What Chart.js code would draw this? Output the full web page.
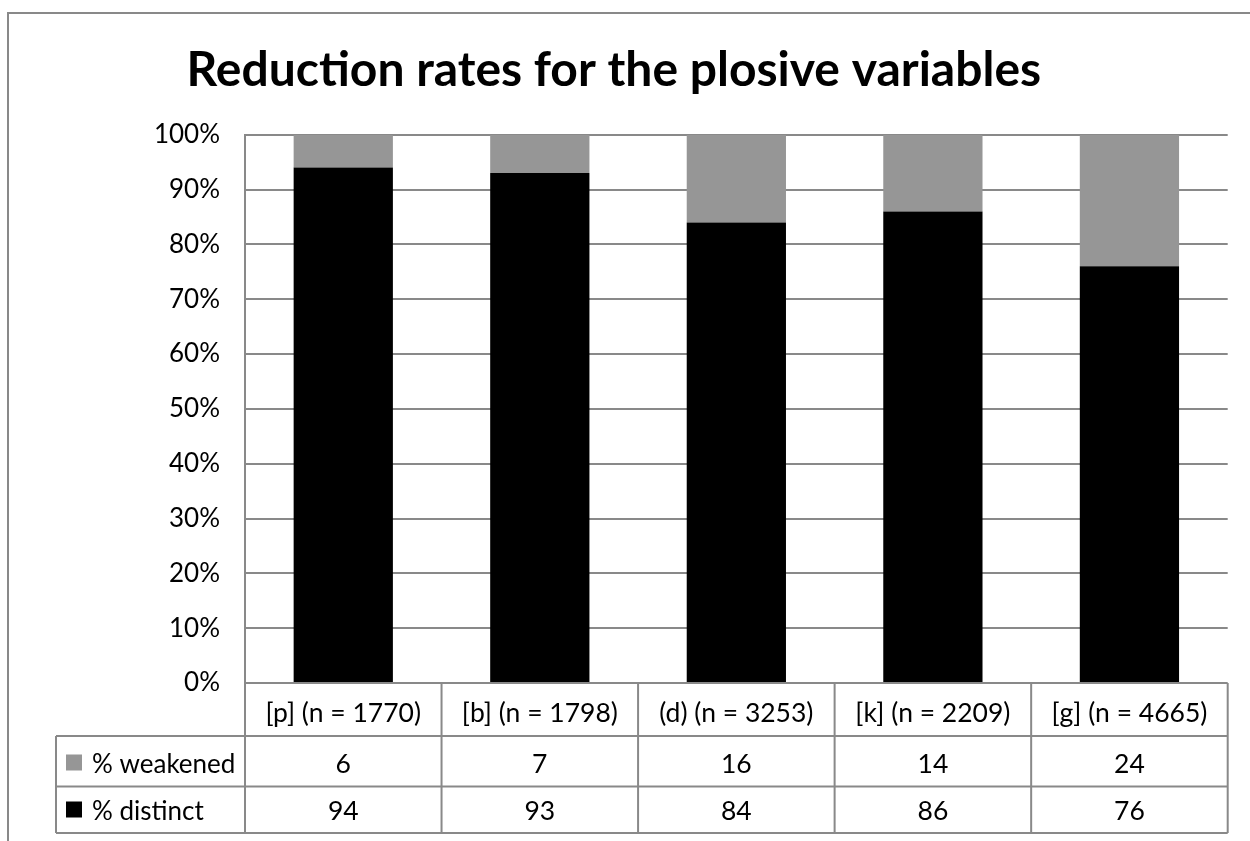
<!DOCTYPE html>
<html>
<head>
<meta charset="utf-8">
<script src="https://cdn.jsdelivr.net/npm/chart.js@4.4.1/dist/chart.umd.min.js"></script>
<style>
  html, body { margin: 0; padding: 0; background: #ffffff; }
  #wrap { width: 1250px; height: 841px; position: relative; }
</style>
</head>
<body>
<div id="wrap"><canvas id="chart"></canvas></div>
<script>
// Plosive variables and their sample sizes
const categories = ['[p] (n = 1770)', '[b] (n = 1798)', '(d) (n = 3253)', '[k] (n = 2209)', '[g] (n = 4665)'];
// Percentages per variable
const distinctPct = [94, 93, 84, 86, 76];
const weakenedPct = [6, 7, 16, 14, 24];
const seriesNames = ['% distinct', '% weakened'];
const seriesColors = ['#000000', '#969696'];
// Value-axis ticks
const yTicks = [0, 10, 20, 30, 40, 50, 60, 70, 80, 90, 100];

const FONT = 'Lato, "Open Sans", sans-serif';
const LINE = '#898989';

// White background and the grey frame round the whole chart
const frame = {
  id: 'frame',
  beforeDraw(chart) {
    const ctx = chart.ctx;
    ctx.save();
    ctx.fillStyle = '#ffffff';
    ctx.fillRect(0, 0, chart.width, chart.height);
    ctx.strokeStyle = LINE;
    ctx.lineWidth = 2;
    ctx.strokeRect(8, 13, chart.width + 40, chart.height + 40);
    ctx.restore();
  }
};

// Data table under the plot: category header row, then one row per series
const dataTable = {
  id: 'dataTable',
  afterDraw(chart) {
    const { ctx, chartArea: a, scales: { x } } = chart;
    const rowH = [53, 50.5, 46.5];
    const keyLeft = 56;
    const y0 = a.bottom, y1 = y0 + rowH[0], y2 = y1 + rowH[1], y3 = y2 + rowH[2];
    const half = (x.getPixelForValue(1) - x.getPixelForValue(0)) / 2;

    ctx.save();
    ctx.strokeStyle = LINE;
    ctx.lineWidth = 2;
    ctx.beginPath();
    ctx.moveTo(keyLeft, y1); ctx.lineTo(a.right, y1);
    ctx.moveTo(keyLeft, y2); ctx.lineTo(a.right, y2);
    ctx.moveTo(keyLeft, y3); ctx.lineTo(a.right, y3);
    ctx.moveTo(keyLeft, y1); ctx.lineTo(keyLeft, y3);
    ctx.moveTo(a.left, y0); ctx.lineTo(a.left, y3);
    categories.forEach((c, i) => {
      const xr = x.getPixelForValue(i) + half;
      ctx.moveTo(xr, y0); ctx.lineTo(xr, y3);
    });
    ctx.stroke();

    ctx.fillStyle = '#000000';
    ctx.font = '26.5px ' + FONT;
    ctx.textBaseline = 'alphabetic';
    ctx.textAlign = 'center';

    // rows run top series first
    const rows = chart.data.datasets.slice().reverse();
    const headBase = y0 + 39;
    const rowBase = [y1 + 36.5, y2 + 33];

    categories.forEach((c, i) => {
      const cx = x.getPixelForValue(i);
      ctx.fillText(c, cx, headBase);
      rows.forEach((ds, r) => ctx.fillText(String(ds.data[i]), cx, rowBase[r]));
    });

    ctx.textAlign = 'left';
    ctx.font = '26px ' + FONT;
    rows.forEach((ds, r) => {
      const mid = rowBase[r] - 10;
      ctx.fillStyle = ds.backgroundColor;
      ctx.fillRect(66, mid - 8, 16, 16);
      ctx.fillStyle = '#000000';
      ctx.fillText(ds.label, 92, rowBase[r]);
    });
    ctx.restore();
  }
};

new Chart(document.getElementById('chart'), {
  type: 'bar',
  data: {
    labels: categories,
    datasets: [
      { label: seriesNames[0], data: distinctPct, backgroundColor: seriesColors[0] },
      { label: seriesNames[1], data: weakenedPct, backgroundColor: seriesColors[1] }
    ]
  },
  options: {
    responsive: true,
    maintainAspectRatio: false,
    animation: false,
    layout: { padding: { left: 0, right: 22.3, top: 0, bottom: 158 } },
    datasets: { bar: { categoryPercentage: 1, barPercentage: 0.505, borderWidth: 0 } },
    plugins: {
      legend: { display: false },
      tooltip: { enabled: false },
      title: {
        display: true,
        text: 'Reduction rates for the plosive variables',
        color: '#000000',
        font: { family: FONT, size: 48, weight: 'bold', lineHeight: 1.2 },
        padding: { top: 42, bottom: 35.1 }
      }
    },
    scales: {
      x: {
        stacked: true,
        display: false
      },
      y: {
        stacked: true,
        min: 0,
        max: 100,
        afterFit(scale) { scale.width = 245; },
        afterBuildTicks(scale) { scale.ticks = yTicks.map(v => ({ value: v })); },
        grid: { color: LINE, lineWidth: 2, drawTicks: false },
        border: { display: true, color: LINE, width: 2 },
        ticks: {
          padding: 25,
          color: '#000000',
          font: { family: FONT, size: 26 },
          callback: v => v + '%'
        }
      }
    }
  },
  plugins: [frame, dataTable]
});
</script>
</body>
</html>
